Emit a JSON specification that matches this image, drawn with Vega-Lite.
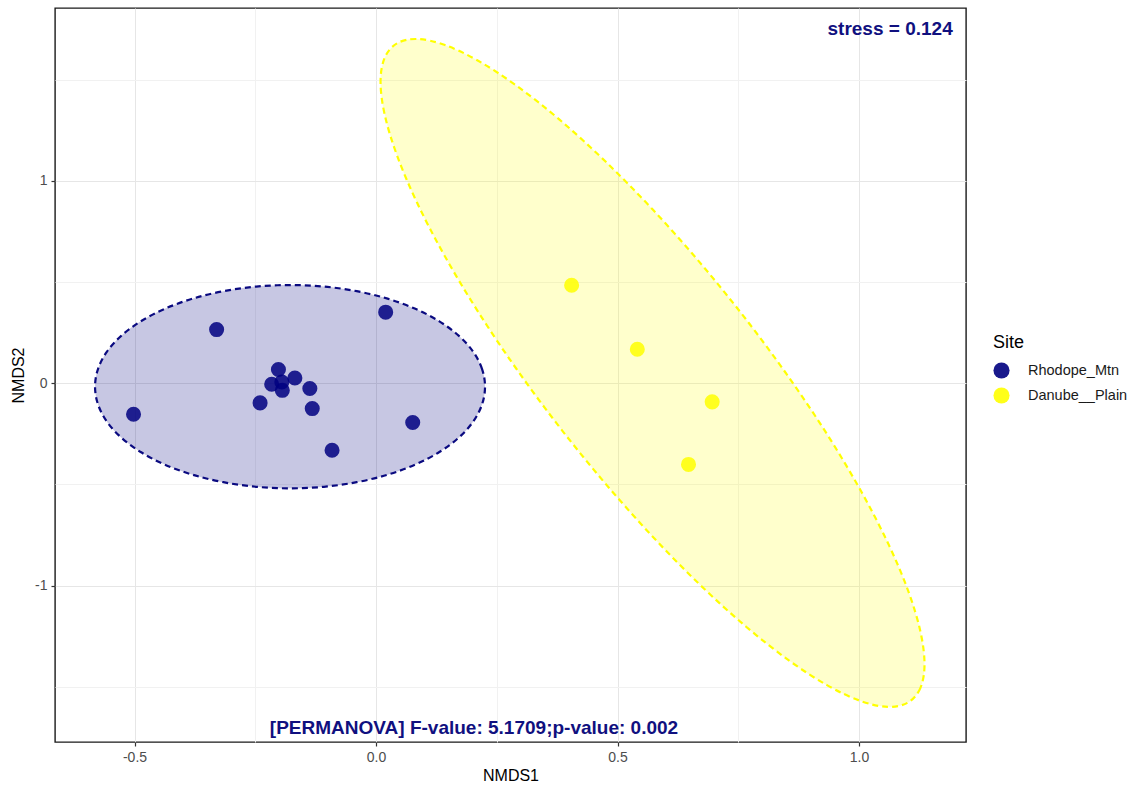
{
  "$schema": "https://vega.github.io/schema/vega-lite/v6.json",
  "width": 911,
  "height": 734,
  "autosize": {"type": "none"},
  "padding": {"left": 55, "top": 8, "right": 167, "bottom": 44},
  "background": "white",
  "config": {
    "font": "Liberation Sans",
    "view": {"stroke": "#1a1a1a", "strokeWidth": 1.4}
  },
  "datasets": {
    "pts": [
      {"Site": "Rhodope_Mtn", "NMDS1": -0.502, "NMDS2": -0.153},
      {"Site": "Rhodope_Mtn", "NMDS1": -0.330, "NMDS2": 0.265},
      {"Site": "Rhodope_Mtn", "NMDS1": 0.020, "NMDS2": 0.351},
      {"Site": "Rhodope_Mtn", "NMDS1": -0.202, "NMDS2": 0.068},
      {"Site": "Rhodope_Mtn", "NMDS1": -0.216, "NMDS2": -0.005},
      {"Site": "Rhodope_Mtn", "NMDS1": -0.195, "NMDS2": 0.006},
      {"Site": "Rhodope_Mtn", "NMDS1": -0.194, "NMDS2": -0.035},
      {"Site": "Rhodope_Mtn", "NMDS1": -0.168, "NMDS2": 0.026},
      {"Site": "Rhodope_Mtn", "NMDS1": -0.137, "NMDS2": -0.026},
      {"Site": "Rhodope_Mtn", "NMDS1": -0.240, "NMDS2": -0.097},
      {"Site": "Rhodope_Mtn", "NMDS1": -0.132, "NMDS2": -0.125},
      {"Site": "Rhodope_Mtn", "NMDS1": -0.091, "NMDS2": -0.331},
      {"Site": "Rhodope_Mtn", "NMDS1": 0.076, "NMDS2": -0.194},
      {"Site": "Danube__Plain", "NMDS1": 0.405, "NMDS2": 0.484},
      {"Site": "Danube__Plain", "NMDS1": 0.541, "NMDS2": 0.168},
      {"Site": "Danube__Plain", "NMDS1": 0.696, "NMDS2": -0.092},
      {"Site": "Danube__Plain", "NMDS1": 0.647, "NMDS2": -0.401}
    ],
    "ell": [
      {"Site": "Rhodope_Mtn", "i": 0, "NMDS1": 0.2257, "NMDS2": -0.017},
      {"Site": "Rhodope_Mtn", "i": 1, "NMDS1": 0.2196, "NMDS2": 0.0701},
      {"Site": "Rhodope_Mtn", "i": 2, "NMDS1": 0.2014, "NMDS2": 0.1547},
      {"Site": "Rhodope_Mtn", "i": 3, "NMDS1": 0.1716, "NMDS2": 0.234},
      {"Site": "Rhodope_Mtn", "i": 4, "NMDS1": 0.1312, "NMDS2": 0.3057},
      {"Site": "Rhodope_Mtn", "i": 5, "NMDS1": 0.0815, "NMDS2": 0.3675},
      {"Site": "Rhodope_Mtn", "i": 6, "NMDS1": 0.0239, "NMDS2": 0.4177},
      {"Site": "Rhodope_Mtn", "i": 7, "NMDS1": -0.0399, "NMDS2": 0.4547},
      {"Site": "Rhodope_Mtn", "i": 8, "NMDS1": -0.1079, "NMDS2": 0.4774},
      {"Site": "Rhodope_Mtn", "i": 9, "NMDS1": -0.178, "NMDS2": 0.485},
      {"Site": "Rhodope_Mtn", "i": 10, "NMDS1": -0.2481, "NMDS2": 0.4774},
      {"Site": "Rhodope_Mtn", "i": 11, "NMDS1": -0.3161, "NMDS2": 0.4547},
      {"Site": "Rhodope_Mtn", "i": 12, "NMDS1": -0.3799, "NMDS2": 0.4177},
      {"Site": "Rhodope_Mtn", "i": 13, "NMDS1": -0.4375, "NMDS2": 0.3675},
      {"Site": "Rhodope_Mtn", "i": 14, "NMDS1": -0.4872, "NMDS2": 0.3057},
      {"Site": "Rhodope_Mtn", "i": 15, "NMDS1": -0.5276, "NMDS2": 0.234},
      {"Site": "Rhodope_Mtn", "i": 16, "NMDS1": -0.5574, "NMDS2": 0.1547},
      {"Site": "Rhodope_Mtn", "i": 17, "NMDS1": -0.5756, "NMDS2": 0.0701},
      {"Site": "Rhodope_Mtn", "i": 18, "NMDS1": -0.5817, "NMDS2": -0.017},
      {"Site": "Rhodope_Mtn", "i": 19, "NMDS1": -0.5756, "NMDS2": -0.1041},
      {"Site": "Rhodope_Mtn", "i": 20, "NMDS1": -0.5574, "NMDS2": -0.1887},
      {"Site": "Rhodope_Mtn", "i": 21, "NMDS1": -0.5276, "NMDS2": -0.268},
      {"Site": "Rhodope_Mtn", "i": 22, "NMDS1": -0.4872, "NMDS2": -0.3397},
      {"Site": "Rhodope_Mtn", "i": 23, "NMDS1": -0.4375, "NMDS2": -0.4015},
      {"Site": "Rhodope_Mtn", "i": 24, "NMDS1": -0.3799, "NMDS2": -0.4517},
      {"Site": "Rhodope_Mtn", "i": 25, "NMDS1": -0.3161, "NMDS2": -0.4887},
      {"Site": "Rhodope_Mtn", "i": 26, "NMDS1": -0.2481, "NMDS2": -0.5114},
      {"Site": "Rhodope_Mtn", "i": 27, "NMDS1": -0.178, "NMDS2": -0.519},
      {"Site": "Rhodope_Mtn", "i": 28, "NMDS1": -0.1079, "NMDS2": -0.5114},
      {"Site": "Rhodope_Mtn", "i": 29, "NMDS1": -0.0399, "NMDS2": -0.4887},
      {"Site": "Rhodope_Mtn", "i": 30, "NMDS1": 0.0239, "NMDS2": -0.4517},
      {"Site": "Rhodope_Mtn", "i": 31, "NMDS1": 0.0815, "NMDS2": -0.4015},
      {"Site": "Rhodope_Mtn", "i": 32, "NMDS1": 0.1312, "NMDS2": -0.3397},
      {"Site": "Rhodope_Mtn", "i": 33, "NMDS1": 0.1716, "NMDS2": -0.268},
      {"Site": "Rhodope_Mtn", "i": 34, "NMDS1": 0.2014, "NMDS2": -0.1887},
      {"Site": "Rhodope_Mtn", "i": 35, "NMDS1": 0.2196, "NMDS2": -0.1041},
      {"Site": "Danube__Plain", "i": 0, "NMDS1": 1.1356, "NMDS2": -1.3871},
      {"Site": "Danube__Plain", "i": 1, "NMDS1": 1.1270, "NMDS2": -1.5055},
      {"Site": "Danube__Plain", "i": 2, "NMDS1": 1.1016, "NMDS2": -1.5767},
      {"Site": "Danube__Plain", "i": 3, "NMDS1": 1.0601, "NMDS2": -1.5984},
      {"Site": "Danube__Plain", "i": 4, "NMDS1": 1.0038, "NMDS2": -1.5699},
      {"Site": "Danube__Plain", "i": 5, "NMDS1": 0.9345, "NMDS2": -1.4923},
      {"Site": "Danube__Plain", "i": 6, "NMDS1": 0.8541, "NMDS2": -1.3677},
      {"Site": "Danube__Plain", "i": 7, "NMDS1": 0.7651, "NMDS2": -1.2001},
      {"Site": "Danube__Plain", "i": 8, "NMDS1": 0.6703, "NMDS2": -0.9943},
      {"Site": "Danube__Plain", "i": 9, "NMDS1": 0.5725, "NMDS2": -0.757},
      {"Site": "Danube__Plain", "i": 10, "NMDS1": 0.4747, "NMDS2": -0.4951},
      {"Site": "Danube__Plain", "i": 11, "NMDS1": 0.3799, "NMDS2": -0.2165},
      {"Site": "Danube__Plain", "i": 12, "NMDS1": 0.2909, "NMDS2": 0.0703},
      {"Site": "Danube__Plain", "i": 13, "NMDS1": 0.2105, "NMDS2": 0.3563},
      {"Site": "Danube__Plain", "i": 14, "NMDS1": 0.1412, "NMDS2": 0.6331},
      {"Site": "Danube__Plain", "i": 15, "NMDS1": 0.0849, "NMDS2": 0.8922},
      {"Site": "Danube__Plain", "i": 16, "NMDS1": 0.0434, "NMDS2": 1.1259},
      {"Site": "Danube__Plain", "i": 17, "NMDS1": 0.0180, "NMDS2": 1.3267},
      {"Site": "Danube__Plain", "i": 18, "NMDS1": 0.0094, "NMDS2": 1.4889},
      {"Site": "Danube__Plain", "i": 19, "NMDS1": 0.0180, "NMDS2": 1.6073},
      {"Site": "Danube__Plain", "i": 20, "NMDS1": 0.0434, "NMDS2": 1.6785},
      {"Site": "Danube__Plain", "i": 21, "NMDS1": 0.0849, "NMDS2": 1.7002},
      {"Site": "Danube__Plain", "i": 22, "NMDS1": 0.1412, "NMDS2": 1.6717},
      {"Site": "Danube__Plain", "i": 23, "NMDS1": 0.2105, "NMDS2": 1.5941},
      {"Site": "Danube__Plain", "i": 24, "NMDS1": 0.2909, "NMDS2": 1.4695},
      {"Site": "Danube__Plain", "i": 25, "NMDS1": 0.3799, "NMDS2": 1.3019},
      {"Site": "Danube__Plain", "i": 26, "NMDS1": 0.4747, "NMDS2": 1.0961},
      {"Site": "Danube__Plain", "i": 27, "NMDS1": 0.5725, "NMDS2": 0.8588},
      {"Site": "Danube__Plain", "i": 28, "NMDS1": 0.6703, "NMDS2": 0.5969},
      {"Site": "Danube__Plain", "i": 29, "NMDS1": 0.7651, "NMDS2": 0.3183},
      {"Site": "Danube__Plain", "i": 30, "NMDS1": 0.8541, "NMDS2": 0.0315},
      {"Site": "Danube__Plain", "i": 31, "NMDS1": 0.9345, "NMDS2": -0.2545},
      {"Site": "Danube__Plain", "i": 32, "NMDS1": 1.0038, "NMDS2": -0.5313},
      {"Site": "Danube__Plain", "i": 33, "NMDS1": 1.0601, "NMDS2": -0.7904},
      {"Site": "Danube__Plain", "i": 34, "NMDS1": 1.1016, "NMDS2": -1.0241},
      {"Site": "Danube__Plain", "i": 35, "NMDS1": 1.1270, "NMDS2": -1.2249}
    ]
  },
  "layer": [
    {
      "data": {"name": "ell"},
      "transform": [{"filter": "datum.Site == 'Rhodope_Mtn'"}],
      "mark": {"type": "line", "interpolate": "cardinal-closed", "fill": "#000080", "fillOpacity": 0.22, "stroke": "#0a0a80", "strokeWidth": 2.2, "strokeDash": [6, 4]},
      "encoding": {
        "x": {"field": "NMDS1", "type": "quantitative"},
        "y": {"field": "NMDS2", "type": "quantitative"},
        "order": {"field": "i", "type": "quantitative"}
      }
    },
    {
      "data": {"name": "ell"},
      "transform": [{"filter": "datum.Site == 'Danube__Plain'"}],
      "mark": {"type": "line", "interpolate": "cardinal-closed", "fill": "#ffff00", "fillOpacity": 0.2, "stroke": "#ffff00", "strokeWidth": 2.2, "strokeDash": [6, 4]},
      "encoding": {
        "x": {"field": "NMDS1", "type": "quantitative"},
        "y": {"field": "NMDS2", "type": "quantitative"},
        "order": {"field": "i", "type": "quantitative"}
      }
    },
    {
      "data": {"name": "pts"},
      "mark": {"type": "circle", "size": 227, "opacity": 0.85},
      "encoding": {
        "x": {
          "field": "NMDS1",
          "type": "quantitative",
          "scale": {"domain": [-0.6646, 1.2215], "nice": false, "zero": false},
          "axis": {
            "title": "NMDS1",
            "values": [-0.5, -0.25, 0, 0.25, 0.5, 0.75, 1],
            "labelExpr": "abs(datum.value*2-round(datum.value*2))<0.01 ? replace(format(datum.value,'.1f'),'\u2212','-') : ''",
            "labelOverlap": false,
            "labelFlush": false,
            "labelBound": false,
            "domain": false,
            "grid": true,
            "gridColor": {"condition": {"test": "abs(datum.value*2-round(datum.value*2))<0.01", "value": "#e6e6e6"}, "value": "#f1f1f1"},
            "gridWidth": 1,
            "tickColor": {"condition": {"test": "abs(datum.value*2-round(datum.value*2))<0.01", "value": "#333333"}, "value": "rgba(0,0,0,0)"},
            "tickSize": 4,
            "tickWidth": 1.2,
            "labelPadding": 4,
            "labelFontSize": 14,
            "labelColor": "#4d4d4d",
            "titleFontSize": 16,
            "titleFontWeight": "normal",
            "titleColor": "#000000",
            "titlePadding": 3
          }
        },
        "y": {
          "field": "NMDS2",
          "type": "quantitative",
          "scale": {"domain": [-1.7719, 1.8533], "nice": false, "zero": false},
          "axis": {
            "title": "NMDS2",
            "values": [-1.5, -1, -0.5, 0, 0.5, 1, 1.5],
            "labelExpr": "abs(datum.value-round(datum.value))<0.01 ? replace(format(datum.value,'d'),'\u2212','-') : ''",
            "labelOverlap": false,
            "labelFlush": false,
            "labelBound": false,
            "domain": false,
            "grid": true,
            "gridColor": {"condition": {"test": "abs(datum.value-round(datum.value))<0.01", "value": "#e6e6e6"}, "value": "#f1f1f1"},
            "gridWidth": 1,
            "tickColor": {"condition": {"test": "abs(datum.value-round(datum.value))<0.01", "value": "#333333"}, "value": "rgba(0,0,0,0)"},
            "tickSize": 4,
            "tickWidth": 1.2,
            "labelPadding": 4,
            "labelFontSize": 14,
            "labelColor": "#4d4d4d",
            "titleFontSize": 16,
            "titleFontWeight": "normal",
            "titleColor": "#000000",
            "titlePadding": 8
          }
        },
        "color": {
          "field": "Site",
          "type": "nominal",
          "scale": {"domain": ["Rhodope_Mtn", "Danube__Plain"], "range": ["#000080", "#ffff00"]},
          "legend": {
            "title": "Site",
            "orient": "none",
            "legendX": 938,
            "legendY": 326,
            "padding": 0,
            "titleFontSize": 18,
            "titleFontWeight": "normal",
            "titleColor": "#000000",
            "titlePadding": 10,
            "labelFontSize": 14.5,
            "labelColor": "#1a1a1a",
            "labelOffset": 18,
            "symbolType": "circle",
            "symbolSize": 260,
            "symbolOpacity": 0.9,
            "symbolStrokeWidth": 0,
            "rowPadding": 8
          }
        }
      }
    },
    {
      "data": {"values": [{"label": "stress = 0.124"}]},
      "mark": {"type": "text", "align": "right", "baseline": "middle", "fontSize": 19, "fontWeight": "bold", "color": "#10107f"},
      "encoding": {
        "text": {"field": "label", "type": "nominal"},
        "x": {"datum": 1.194, "type": "quantitative"},
        "y": {"datum": 1.7496, "type": "quantitative"}
      }
    },
    {
      "data": {"values": [{"label": "[PERMANOVA] F-value: 5.1709;p-value: 0.002"}]},
      "mark": {"type": "text", "align": "center", "baseline": "middle", "fontSize": 19, "fontWeight": "bold", "color": "#10107f"},
      "encoding": {
        "text": {"field": "label", "type": "nominal"},
        "x": {"datum": 0.2029, "type": "quantitative"},
        "y": {"datum": -1.702, "type": "quantitative"}
      }
    }
  ]
}
